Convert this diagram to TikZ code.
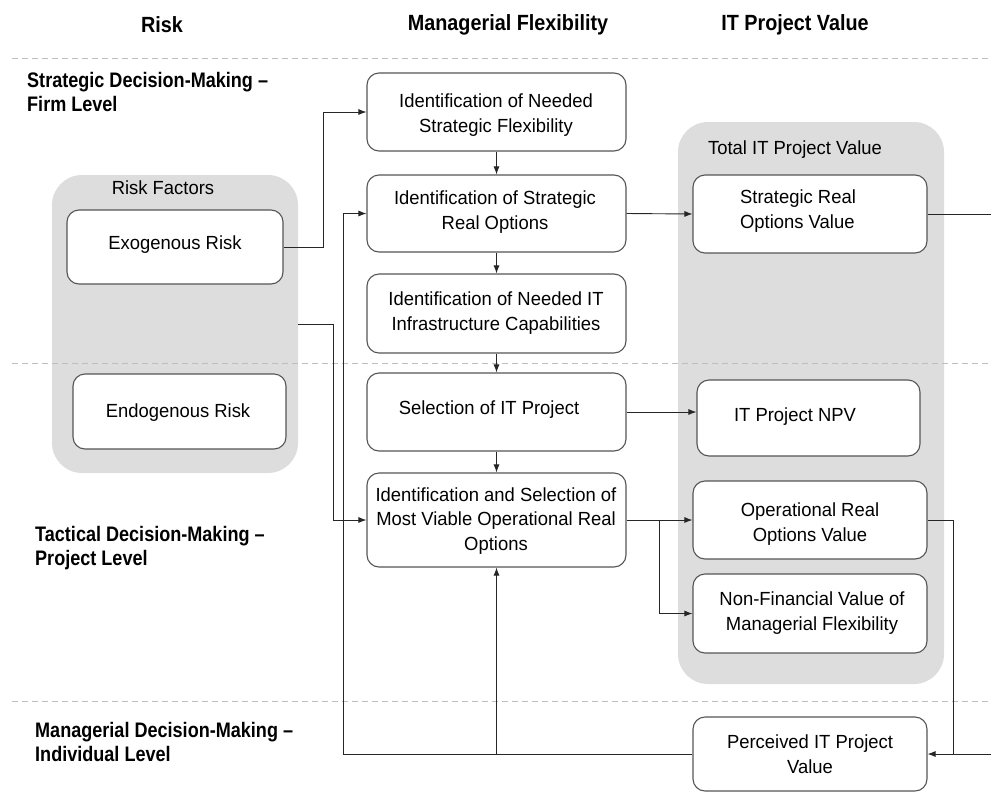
\documentclass[tikz,border=0pt]{standalone}
\usepackage{fontspec}
\setmainfont{Liberation Sans}[FakeStretch=0.97]
\newfontfamily\headfam{Liberation Sans}[FakeStretch=0.9]
\newfontfamily\rowfam{Liberation Sans}[FakeStretch=0.86]
\usetikzlibrary{arrows.meta}
\definecolor{groupgray}{RGB}{221,221,221}
\definecolor{boxline}{RGB}{85,85,85}
\definecolor{sepgray}{RGB}{190,190,190}
\newcommand{\bodyfont}{\fontsize{19}{24.5}\selectfont}
\newcommand{\headfont}{\headfam\fontsize{22}{24}\selectfont\bfseries}
\newcommand{\rowfont}{\rowfam\fontsize{21}{24}\selectfont\bfseries}
\begin{document}
\begin{tikzpicture}[x=1pt,y=-1pt,
  group/.style={fill=groupgray, rounded corners=30pt, inner sep=0pt},
  box/.style={draw=boxline, fill=white, rounded corners=12pt, line width=1.1pt, inner sep=0pt},
  txt/.style={font=\bodyfont, align=center, inner sep=0pt},
  head/.style={font=\headfont, inner sep=0pt},
  rowlabel/.style={font=\rowfont, align=left, anchor=west, inner sep=0pt},
  sep/.style={draw=sepgray, line width=1pt, dash pattern=on 6pt off 4pt},
  link/.style={line width=0.9pt, draw=black!85},
  flow/.style={link, -{Latex[length=8pt,width=6pt]}}]
\useasboundingbox (0,0) rectangle (991,793);

% column headings
\node[head] (hrisk) at (162,25) {Risk};
\node[head] (hflex) at (508,25) {Managerial Flexibility};
\node[head] (hval) at (795,25) {IT Project Value};

% decision levels
\node[rowlabel] (lvl1) at (27,92) {Strategic Decision-Making –\\Firm Level};
\node[rowlabel] (lvl2) at (35,548) {Tactical Decision-Making –\\Project Level};
\node[rowlabel] (lvl3) at (35,742) {Managerial Decision-Making –\\Individual Level};

% grouping panels
\node[group, minimum width=246pt, minimum height=298pt] (riskgrp) at (175,324) {};
\node[group, minimum width=266pt, minimum height=562pt] (valgrp) at (811,403) {};
\node[txt] (riskttl) at (163,188) {Risk Factors};
\node[txt] (valttl) at (795,150) {Total IT Project Value};

% level separators
\draw[sep] (12,58) -- (991,58);
\draw[sep] (12,363) -- (991,363);
\draw[sep] (12,701) -- (991,701);

% risk column
\node[box, minimum width=216pt, minimum height=74pt] (exo) at (175,247) {};
\node[txt] (exot) at (175,245) {Exogenous Risk};
\node[box, minimum width=213pt, minimum height=75pt] (endo) at (179.5,411.5) {};
\node[txt] (endot) at (178,413) {Endogenous Risk};

% managerial flexibility column
\node[box, minimum width=259pt, minimum height=78pt] (b1) at (496.5,112) {};
\node[txt] (b1t) at (496,115) {Identification of Needed\\Strategic Flexibility};
\node[box, minimum width=259pt, minimum height=77pt] (b2) at (496.5,213.5) {};
\node[txt] (b2t) at (495,212) {Identification of Strategic\\Real Options};
\node[box, minimum width=259pt, minimum height=79pt] (b3) at (496.5,313.5) {};
\node[txt] (b3t) at (496,313) {Identification of Needed IT\\Infrastructure Capabilities};
\node[box, minimum width=259pt, minimum height=78pt] (b4) at (496.5,412) {};
\node[txt] (b4t) at (489,410) {Selection of IT Project};
\node[box, minimum width=259pt, minimum height=94pt] (b5) at (496.5,520) {};
\node[txt] (b5t) at (496,521) {Identification and Selection of\\Most Viable Operational Real\\Options};

% value column
\node[box, minimum width=234pt, minimum height=78pt] (srov) at (810,214) {};
\node[txt, align=left] (srovt) at (798,211) {Strategic Real\\Options Value};
\node[box, minimum width=223pt, minimum height=76pt] (npv) at (808.5,418) {};
\node[txt] (npvt) at (795,417) {IT Project NPV};
\node[box, minimum width=234pt, minimum height=78pt] (orov) at (810,520) {};
\node[txt] (orovt) at (810,524) {Operational Real\\Options Value};
\node[box, minimum width=234pt, minimum height=79pt] (nfv) at (810,613.5) {};
\node[txt] (nfvt) at (812,613) {Non-Financial Value of\\Managerial Flexibility};
\node[box, minimum width=234pt, minimum height=74pt] (piv) at (810,754) {};
\node[txt] (pivt) at (810,754) {Perceived IT Project\\Value};

% free ends and junctions
\coordinate (rout) at (991,214);
\coordinate (rin) at (991,754);
\coordinate (split) at (659,520);
\coordinate (loopx) at (343,754);
\coordinate (join) at (b5.south |- piv.west);

% connectors
\draw[flow] (exo.east) -- (323,247) |- (b1.west);
\draw[flow] (b1.south) -- (b2.north);
\draw[flow] (b2.south) -- (b3.north);
\draw[flow] (b3.south) -- (b4.north);
\draw[flow] (b4.south) -- (b5.north);
\draw[flow] (b2.east) -- (srov.west);
\draw[link] (srov.east) -- (rout);
\draw[flow] (b4.east) -- (b4.east -| npv.west);
\draw[flow] (riskgrp.east) -- (333,324) |- (b5.west);
\draw[flow] (b5.east) -- (orov.west);
\draw[flow] (split) |- (nfv.west);
\draw[flow] (orov.east) -- (953,520) |- (piv.east);
\draw[link] (rin) -- (953,754);
\draw[flow] (piv.west) -- (loopx) |- (b2.west);
\draw[flow] (join) -- (b5.south);
\end{tikzpicture}
\end{document}
